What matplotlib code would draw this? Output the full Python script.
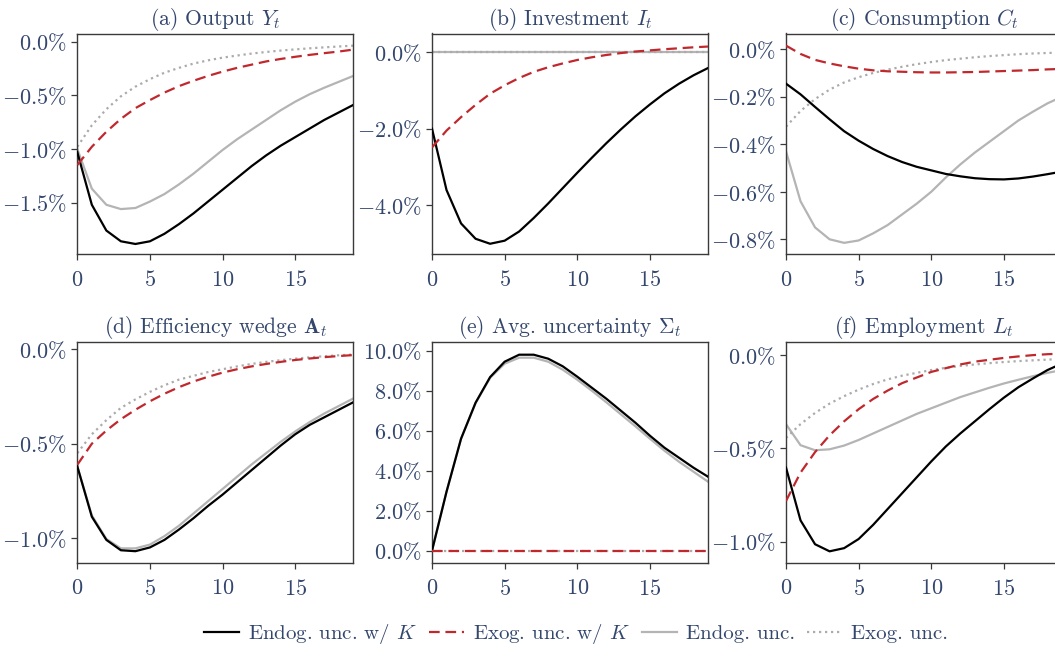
import numpy as np
import matplotlib
matplotlib.use("Agg")
import matplotlib.pyplot as plt
from matplotlib.ticker import FuncFormatter, FixedLocator

plt.rcParams["font.family"] = "serif"
plt.rcParams["font.serif"] = ["cmr10"]
plt.rcParams["mathtext.fontset"] = "cm"
plt.rcParams["axes.formatter.use_mathtext"] = True

TEXT = "#33466d"
SPINE = "#3a3a3a"
RED = "#c0282d"
GRAY = "#b4b4b4"
DOT = "#ababab"

periods = np.arange(20)

# impulse responses in percent, t = 0..19
output_endog_k = [-1.03, -1.52, -1.76, -1.86, -1.885, -1.86, -1.79, -1.70, -1.60, -1.49,
                  -1.38, -1.27, -1.16, -1.06, -0.97, -0.89, -0.81, -0.73, -0.66, -0.59]
output_exog_k = [-1.15, -0.98, -0.84, -0.72, -0.62, -0.545, -0.475, -0.415, -0.365, -0.32,
                 -0.28, -0.245, -0.215, -0.185, -0.162, -0.142, -0.124, -0.108, -0.093, -0.075]
output_endog = [-1.00, -1.37, -1.52, -1.56, -1.55, -1.49, -1.42, -1.33, -1.23, -1.12,
                -1.01, -0.91, -0.82, -0.73, -0.64, -0.56, -0.49, -0.43, -0.375, -0.32]
output_exog = [-0.98, -0.78, -0.63, -0.51, -0.42, -0.35, -0.29, -0.245, -0.205, -0.175,
               -0.15, -0.13, -0.112, -0.097, -0.084, -0.073, -0.063, -0.054, -0.046, -0.038]

inv_endog_k = [-2.0, -3.6, -4.47, -4.87, -5.0, -4.92, -4.68, -4.33, -3.95, -3.55,
               -3.15, -2.76, -2.38, -2.02, -1.68, -1.37, -1.08, -0.83, -0.61, -0.42]
inv_exog_k = [-2.49, -2.05, -1.70, -1.38, -1.09, -0.87, -0.68, -0.52, -0.40, -0.30,
              -0.21, -0.14, -0.08, -0.03, 0.01, 0.04, 0.07, 0.095, 0.12, 0.14]
inv_endog = [0.0] * 20
inv_exog = [0.0] * 20

cons_endog_k = [-0.145, -0.19, -0.243, -0.295, -0.345, -0.385, -0.42, -0.45, -0.475, -0.495,
                -0.51, -0.525, -0.535, -0.543, -0.547, -0.548, -0.544, -0.536, -0.526, -0.515]
cons_exog_k = [0.015, -0.02, -0.045, -0.06, -0.072, -0.082, -0.089, -0.093, -0.095, -0.097,
               -0.098, -0.098, -0.097, -0.096, -0.094, -0.092, -0.09, -0.088, -0.085, -0.083]
cons_endog = [-0.43, -0.64, -0.75, -0.80, -0.815, -0.805, -0.775, -0.74, -0.695, -0.65,
              -0.60, -0.54, -0.485, -0.435, -0.39, -0.345, -0.30, -0.263, -0.228, -0.20]
cons_exog = [-0.326, -0.26, -0.21, -0.17, -0.14, -0.118, -0.10, -0.086, -0.074, -0.063,
             -0.054, -0.046, -0.04, -0.034, -0.029, -0.025, -0.021, -0.018, -0.016, -0.014]

eff_endog_k = [-0.62, -0.887, -1.01, -1.065, -1.07, -1.05, -1.01, -0.955, -0.895, -0.83,
               -0.77, -0.705, -0.64, -0.575, -0.51, -0.45, -0.40, -0.36, -0.32, -0.28]
eff_exog_k = [-0.612, -0.50, -0.43, -0.37, -0.32, -0.275, -0.235, -0.20, -0.17, -0.145,
              -0.123, -0.105, -0.09, -0.077, -0.066, -0.056, -0.048, -0.041, -0.035, -0.03]
eff_endog = [-0.62, -0.88, -1.005, -1.055, -1.055, -1.035, -0.99, -0.935, -0.87, -0.805,
             -0.74, -0.675, -0.61, -0.55, -0.49, -0.435, -0.385, -0.34, -0.30, -0.26]
eff_exog = [-0.55, -0.45, -0.375, -0.31, -0.265, -0.225, -0.19, -0.16, -0.14, -0.12,
            -0.105, -0.09, -0.077, -0.066, -0.057, -0.049, -0.042, -0.036, -0.031, -0.027]

unc_endog_k = [0.0, 2.95, 5.6, 7.4, 8.68, 9.45, 9.8, 9.8, 9.6, 9.22,
               8.7, 8.15, 7.6, 7.0, 6.4, 5.75, 5.15, 4.65, 4.15, 3.7]
unc_exog_k = [0.0] * 20
unc_endog = [0.0, 2.95, 5.6, 7.38, 8.64, 9.35, 9.65, 9.65, 9.45, 9.05,
             8.55, 8.0, 7.42, 6.82, 6.22, 5.6, 5.0, 4.45, 3.95, 3.45]
unc_exog = [0.0] * 20

emp_endog_k = [-0.603, -0.886, -1.014, -1.052, -1.035, -0.986, -0.91, -0.825, -0.74, -0.655,
               -0.57, -0.49, -0.42, -0.355, -0.29, -0.228, -0.172, -0.125, -0.08, -0.045]
emp_exog_k = [-0.782, -0.63, -0.52, -0.43, -0.355, -0.29, -0.235, -0.19, -0.15, -0.12,
              -0.09, -0.07, -0.05, -0.035, -0.025, -0.015, -0.007, 0.0, 0.005, 0.008]
emp_endog = [-0.37, -0.483, -0.51, -0.505, -0.485, -0.455, -0.42, -0.385, -0.35, -0.315,
             -0.285, -0.255, -0.225, -0.20, -0.175, -0.152, -0.132, -0.113, -0.095, -0.08]
emp_exog = [-0.444, -0.37, -0.31, -0.26, -0.22, -0.185, -0.155, -0.13, -0.11, -0.095,
            -0.08, -0.068, -0.058, -0.05, -0.043, -0.037, -0.032, -0.028, -0.024, -0.021]

titles = [
    r"(a) Output $Y_t$",
    r"(b) Investment $I_t$",
    r"(c) Consumption $C_t$",
    r"(d) Efficiency wedge $\mathbf{A}_t$",
    r"(e) Avg. uncertainty $\Sigma_t$",
    r"(f) Employment $L_t$",
]
series = [
    (output_endog_k, output_exog_k, output_endog, output_exog),
    (inv_endog_k, inv_exog_k, inv_endog, inv_exog),
    (cons_endog_k, cons_exog_k, cons_endog, cons_exog),
    (eff_endog_k, eff_exog_k, eff_endog, eff_exog),
    (unc_endog_k, unc_exog_k, unc_endog, unc_exog),
    (emp_endog_k, emp_exog_k, emp_endog, emp_exog),
]
yticks = [
    [0.0, -0.5, -1.0, -1.5],
    [0.0, -2.0, -4.0],
    [0.0, -0.2, -0.4, -0.6, -0.8],
    [0.0, -0.5, -1.0],
    [0.0, 2.0, 4.0, 6.0, 8.0, 10.0],
    [0.0, -0.5, -1.0],
]
ylims = [(-1.983, 0.075), (-5.28, 0.48), (-0.864, 0.066),
         (-1.131, 0.041), (-0.6, 10.45), (-1.113, 0.072)]
labels = [r"Endog. unc. w/ $K$", r"Exog. unc. w/ $K$", "Endog. unc.", "Exog. unc."]

W, H = 1055, 651
fig = plt.figure(figsize=(W / 100, H / 100), dpi=100)

lefts = [77.3, 432.0, 786.0]
tops = [33.5, 341.7]
aw, ah = 276.0, 221.0

pct = FuncFormatter(lambda v, p: r"$%.1f\%%$" % v)

handles = None
for i in range(6):
    r, c = divmod(i, 3)
    ax = fig.add_axes([lefts[c] / W, (H - tops[r] - ah) / H, aw / W, ah / H])
    endog_k, exog_k, endog, exog = series[i]
    l3, = ax.plot(periods, endog, color=GRAY, lw=1.6, zorder=2)
    l4, = ax.plot(periods, exog, color=DOT, lw=1.6, ls=(0, (1, 1.7)), zorder=2)
    l1, = ax.plot(periods, endog_k, color="black", lw=1.6, zorder=3)
    l2, = ax.plot(periods, exog_k, color=RED, lw=1.6, ls=(0, (4.8, 2.6)), zorder=4)
    handles = [l1, l2, l3, l4]

    ax.set_xlim(0, 19)
    ax.set_ylim(*ylims[i])
    ax.xaxis.set_major_locator(FixedLocator([0, 5, 10, 15]))
    ax.yaxis.set_major_locator(FixedLocator(yticks[i]))
    ax.yaxis.set_major_formatter(pct)
    ax.xaxis.set_major_formatter(FuncFormatter(lambda v, p: r"$%d$" % v))
    ax.tick_params(direction="out", length=4.5, width=0.9, color=SPINE,
                   labelcolor=TEXT, labelsize=16)
    ax.tick_params(axis="x", pad=7)
    ax.tick_params(axis="y", pad=3)
    for s in ax.spines.values():
        s.set_color(SPINE)
        s.set_linewidth(1.0)
    ax.set_title(titles[i], color=TEXT, fontsize=15.5, pad=6)

fig.legend(handles, labels, loc="center", bbox_to_anchor=(0.546, 1 - 634 / H),
           ncol=4, frameon=False, fontsize=15, labelcolor=TEXT,
           handlelength=1.7, columnspacing=0.6, handletextpad=0.4)

fig.savefig("out.png", dpi=100)
